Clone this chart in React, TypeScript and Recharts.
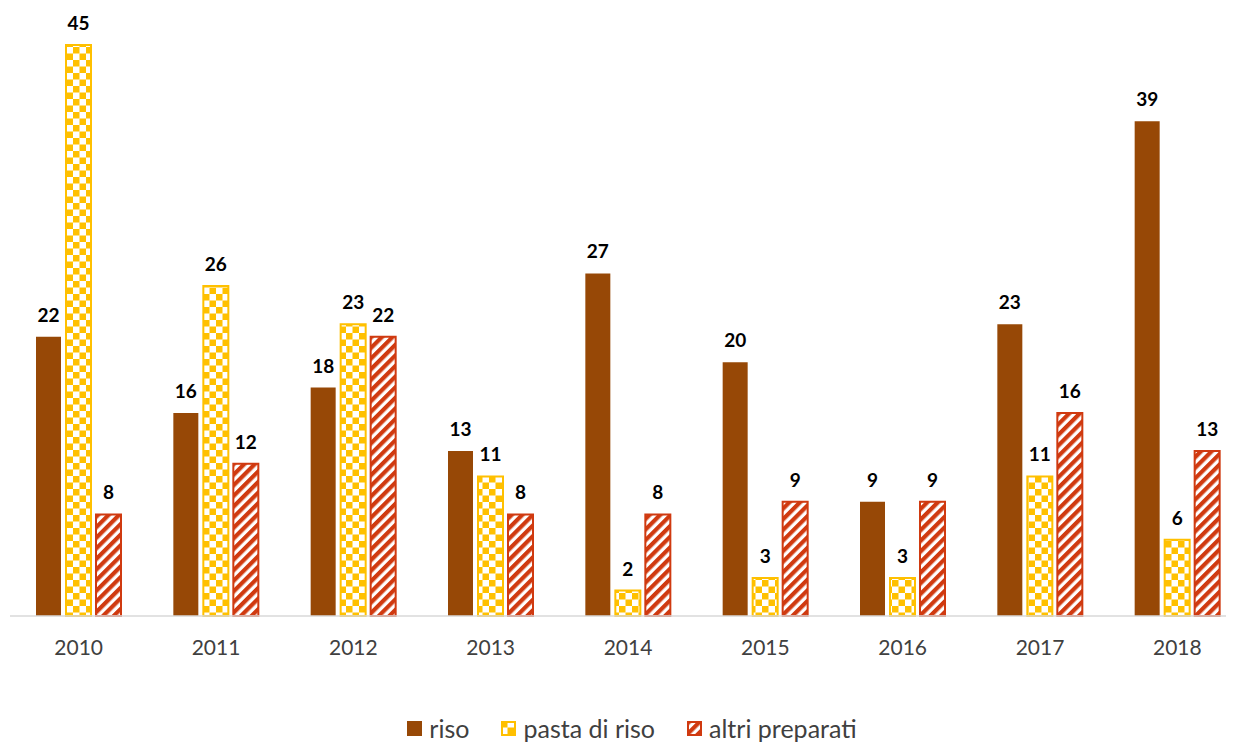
import { Bar, BarChart, LabelList, Legend, XAxis, YAxis } from 'recharts';

const years = ['2010', '2011', '2012', '2013', '2014', '2015', '2016', '2017', '2018'];
const riso = [22, 16, 18, 13, 27, 20, 9, 23, 39];
const pastaDiRiso = [45, 26, 23, 11, 2, 3, 3, 11, 6];
const altriPreparati = [8, 12, 22, 8, 8, 9, 9, 16, 13];

const BROWN = '#974806';
const YELLOW = '#FFC000';
const RED = '#D03A10';
const FONT = 'Lato, "Open Sans", sans-serif';

const data = years.map((year, i) => ({
  year,
  riso: riso[i],
  pasta: pastaDiRiso[i],
  altri: altriPreparati[i],
}));

const legendItems = [
  { label: 'riso', fill: BROWN, stroke: BROWN },
  { label: 'pasta di riso', fill: 'url(#checker)', stroke: YELLOW },
  { label: 'altri preparati', fill: 'url(#stripes)', stroke: RED },
];

function ChartLegend() {
  return (
    <div
      style={{
        display: 'flex',
        justifyContent: 'center',
        alignItems: 'center',
        gap: 32,
        fontFamily: FONT,
        fontSize: 25,
        lineHeight: '28px',
        color: '#404040',
      }}
    >
      {legendItems.map((item) => (
        <span key={item.label} style={{ display: 'flex', alignItems: 'center', gap: 7 }}>
          <svg width={15} height={15}>
            <rect x={1} y={1} width={13} height={13} fill={item.fill} stroke={item.stroke} strokeWidth={2} />
          </svg>
          {item.label}
        </span>
      ))}
    </div>
  );
}

const labelStyle = { fontFamily: FONT, fontSize: 19, fontWeight: 700, fill: '#000' };

export default function App() {
  return (
    <div style={{ width: 1226, height: 737, overflow: 'hidden' }}>
      <BarChart
        width={1240}
        height={737}
        data={data}
        margin={{ top: 37, right: 2, bottom: 41, left: 2 }}
        barSize={25}
        barGap={5}
      >
        <defs>
          <pattern id="checker" width={13} height={13} patternUnits="userSpaceOnUse">
            <rect width={13} height={13} fill="#fff" />
            <rect x={0} y={0} width={6.5} height={6.5} fill={YELLOW} />
            <rect x={6.5} y={6.5} width={6.5} height={6.5} fill={YELLOW} />
          </pattern>
          <pattern
            id="stripes"
            width={7.5}
            height={7.5}
            patternUnits="userSpaceOnUse"
            patternTransform="rotate(45)"
          >
            <rect width={7.5} height={7.5} fill="#fff" />
            <rect x={0} y={0} width={4.2} height={7.5} fill={RED} />
          </pattern>
        </defs>
        <XAxis
          dataKey="year"
          tickLine={false}
          axisLine={{ stroke: '#d9d9d9', strokeWidth: 1.5 }}
          tickMargin={18}
          height={60}
          tick={{ fontFamily: FONT, fontSize: 21, fill: '#404040' }}
        />
        <YAxis hide domain={[0, 45]} />
        <Legend
          verticalAlign="bottom"
          content={<ChartLegend />}
          wrapperStyle={{ top: 706, left: 11, width: 1226 }}
        />
        <Bar dataKey="riso" fill={BROWN} isAnimationActive={false}>
          <LabelList dataKey="riso" position="top" offset={15} style={labelStyle} />
        </Bar>
        <Bar dataKey="pasta" fill="url(#checker)" stroke={YELLOW} strokeWidth={2} isAnimationActive={false}>
          <LabelList dataKey="pasta" position="top" offset={15} style={labelStyle} />
        </Bar>
        <Bar dataKey="altri" fill="url(#stripes)" stroke={RED} strokeWidth={2} isAnimationActive={false}>
          <LabelList dataKey="altri" position="top" offset={15} style={labelStyle} />
        </Bar>
      </BarChart>
    </div>
  );
}
